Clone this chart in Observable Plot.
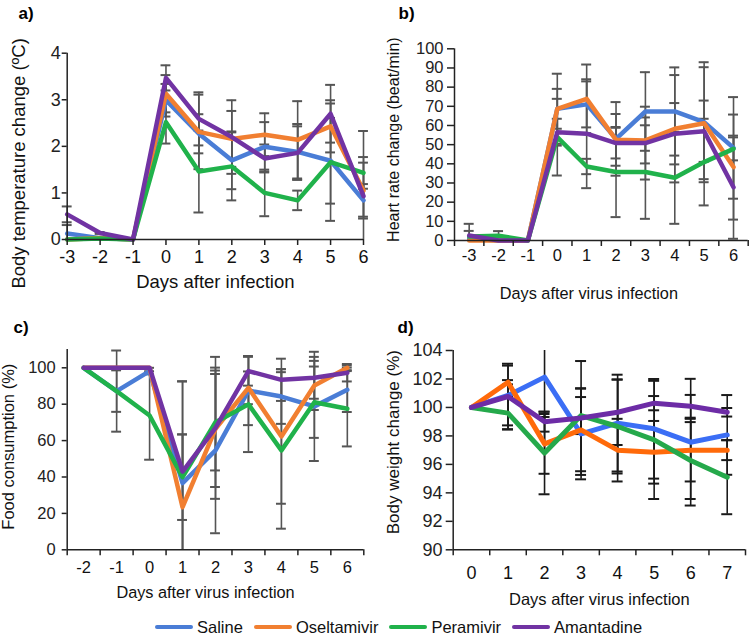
<!DOCTYPE html>
<html><head><meta charset="utf-8">
<script src="https://cdn.jsdelivr.net/npm/d3@7"></script>
<script src="https://cdn.jsdelivr.net/npm/@observablehq/plot@0.6"></script>
<style>
body{margin:0;background:#fff;font-family:"Liberation Sans",Arial,sans-serif;}
#wrap{position:relative;width:750px;height:634px;overflow:hidden;background:#fff}
#legend{position:absolute;left:155px;top:617px;height:20px;display:flex;align-items:center;font-size:16.5px;color:#111;white-space:nowrap}
.item{display:flex;align-items:center;margin-right:11px}
.sw{width:38px;height:4px;border-radius:2px;margin-right:4px}
</style></head><body><div id="wrap"><div id="legend"></div></div>
<script>
const seriesNames = ["Saline","Oseltamivir","Peramivir","Amantadine"];
const colorsABC = ["#4a7dd6","#f17f31","#20b24b","#7133a3"];
const colorsD = ["#3b6ef5","#ff6a0a","#25a94b","#6d2ca6"];

// a) Body temperature change
const daysA = [-3,-2,-1,0,1,2,3,4,5,6];
const tempSaline      = [0.13,0.03,0,2.99,2.27,1.70,1.99,1.88,1.69,0.84];
const tempOseltamivir = [0,0.03,0,3.13,2.31,2.16,2.25,2.14,2.43,1.05];
const tempPeramivir   = [0,0.02,0,2.52,1.46,1.57,1.00,0.84,1.66,1.43];
const tempAmantadine  = [0.54,0.14,0,3.47,2.59,2.20,1.74,1.86,2.70,0.93];
const tempSalineSD      = [0.18,0,0,0.35,0.42,0.62,0.53,0.60,0.92,0.35];
const tempOseltamivirSD = [0,0,0,0.40,0.80,0.60,0.46,0.83,0.56,0.60];
const tempPeramivirSD   = [0,0,0,0.46,0.88,0.73,0.50,0.21,1.26,0.34];
const tempAmantadineSD  = [0.17,0.02,0,0.27,0.57,0.79,0.30,0.57,0.62,1.40];

// b) Heart rate change
const daysB = [-3,-2,-1,0,1,2,3,4,5,6];
const hrSaline      = [1,0,0,68.7,71,53,67.3,67.3,61.7,48.3];
const hrOseltamivir = [0,0,0,68.7,73.9,52.5,52.2,58.3,61.2,38.3];
const hrPeramivir   = [2.1,2.5,0,53.9,38.6,35.7,35.7,32.7,40.9,47.8];
const hrAmantadine  = [2.6,0,0,56.5,55.7,50.8,50.8,55.7,57,27.8];
const hrSalineSD      = [4,0,0,18.3,12,19.2,20.5,23,31.3,26.5];
const hrOseltamivirSD = [0,0,0,10.4,17.9,13.5,12,28,29.2,27.4];
const hrPeramivirSD   = [0,2.4,0,20,4,23.5,24.4,24,22.6,6];
const hrAmantadineSD  = [6.1,0,0,7,28.4,8,19,16,16,26.9];

// c) Food consumption
const daysC = [-2,-1,0,1,2,3,4,5,6];
const foodSaline      = [100,87.2,98.2,36.6,54.6,87.5,84.2,78.8,87.9];
const foodOseltamivir = [100,100,100,23.4,66.5,89,62.3,90.3,100];
const foodPeramivir   = [100,87.2,73.8,39.9,70.1,79.9,54.6,81.1,77.5];
const foodAmantadine  = [100,100,100,43,67,98.2,93.4,94.5,97.3];
const foodSalineSD      = [0,22.3,1.8,56,45.5,19,15,30,12.2];
const foodOseltamivirSD = [0,0,0,40,32,9,37,13.5,1.3];
const foodPeramivirSD   = [0,11.4,24.3,23.5,26.5,26.2,43,19.6,20.7];
const foodAmantadineSD  = [0,0,0,49.5,39,8,11.6,11.5,4.8];

// d) Body weight change
const daysD = [0,1,2,3,4,5,6,7];
const bwSaline      = [100,100.84,102.13,98.15,98.9,98.5,97.56,98.07];
const bwOseltamivir = [100,101.77,97.44,98.42,97.0,96.85,97.0,97.0];
const bwPeramivir   = [100,99.6,96.8,99.43,98.66,97.72,96.27,95.1];
const bwAmantadine  = [100,100.77,99.0,99.26,99.66,100.3,100.08,99.66];
const bwSalineSD      = [0,2.1,2.8,3.2,3.4,3.5,4.45,2.8];
const bwOseltamivirSD = [0,0.15,2.1,2.9,2.2,2.2,2.2,0.7];
const bwPeramivirSD   = [0,1.15,2.9,1.3,3.3,4.15,2.7,2.6];
const bwAmantadineSD  = [0,2.3,0.7,4.0,2.3,0.5,0.8,0.3];

const FONT = '"Liberation Sans", Arial, sans-serif';
const AX = "#222";
const TXT = "#111";

function buildPanel(c) {
  const rows = [];
  c.values.forEach((vals, i) => vals.forEach((v, j) => rows.push({day: c.days[j], v, sd: c.sds[i][j], s: seriesNames[i]})));
  const [y0, y1] = c.yDomain;
  const bars = rows.filter(r => r.sd > 0).map(r => ({
    day: r.day, lo: Math.max(y0, r.v - r.sd), hi: Math.min(y1, r.v + r.sd),
    loCap: r.v - r.sd >= y0, hiCap: r.v + r.sd <= y1
  }));
  const caps = [];
  bars.forEach(b => { if (b.loCap) caps.push({day: b.day, y: b.lo}); if (b.hiCap) caps.push({day: b.day, y: b.hi}); });
  const svg = Plot.plot({
    width: 375, height: 300,
    marginLeft: c.m[0], marginRight: c.m[1], marginTop: c.m[2], marginBottom: c.m[3],
    x: {domain: c.xDomain},
    y: {domain: c.yDomain},
    color: {domain: seriesNames, range: c.colors},
    style: {fontFamily: FONT, color: TXT, background: "transparent", overflow: "visible"},
    marks: [
      Plot.ruleX(bars, {x: "day", y1: "lo", y2: "hi", stroke: c.barColor, strokeWidth: 1.6}),
      Plot.ruleY(caps, {y: "y", x1: d => d.day - c.capHalf, x2: d => d.day + c.capHalf, stroke: c.barColor, strokeWidth: 2}),
      Plot.line(rows, {x: "day", y: "v", z: "s", stroke: "s", strokeWidth: c.lineWidth, strokeLinejoin: "round"}),
      Plot.ruleX([c.xDomain[0]], {stroke: AX, strokeWidth: 1.5}),
      Plot.ruleY([y0], {stroke: AX, strokeWidth: 1.5}),
      Plot.axisY({ticks: c.yTicks, tickSize: c.yTick[0], tickPadding: c.yTick[1], fontSize: c.tickFont, tickFormat: d => String(d), label: null, color: AX, strokeWidth: 1.5}),
      Plot.axisX({ticks: c.xTickMarks, tickSize: 6, tickFormat: () => "", label: null, color: AX, strokeWidth: 1.5}),
      Plot.axisX({ticks: c.days, tickSize: 0, tickPadding: c.xPad, fontSize: c.tickFont, tickFormat: d => String(d), label: null, color: TXT}),
      Plot.text([c.yTitle], {text: d => d, frameAnchor: "left", textAnchor: "middle", lineAnchor: "middle", rotate: -90, dx: c.yTitlePos[0], dy: c.yTitlePos[1], fontSize: c.yTitleFont, fill: TXT}),
      Plot.text([c.xTitle], {text: d => d, frameAnchor: "bottom", textAnchor: "middle", lineAnchor: "bottom", dx: c.xTitlePos[0], dy: c.xTitlePos[1], fontSize: c.xTitleFont, fill: TXT}),
      Plot.text([c.letter], {text: d => d, frameAnchor: "top-left", textAnchor: "start", lineAnchor: "bottom", dx: c.letterPos[0], dy: c.letterPos[1], fontSize: 17, fontWeight: "bold", fill: "#000"})
    ]
  });
  svg.style.position = "absolute";
  svg.style.left = c.left + "px";
  svg.style.top = c.top + "px";
  svg.style.overflow = "visible";
  document.getElementById("wrap").appendChild(svg);
}

const range = (a, b, s) => d3.range(a, b + s / 2, s);

buildPanel({
  left: 0, top: 0, m: [66.7, 12, 52.7, 61],
  days: daysA,
  values: [tempSaline, tempOseltamivir, tempPeramivir, tempAmantadine],
  sds: [tempSalineSD, tempOseltamivirSD, tempPeramivirSD, tempAmantadineSD],
  colors: colorsABC, barColor: "#555", lineWidth: 4.5, capHalf: 0.15,
  xDomain: [-3, 6], yDomain: [0, 4], yTicks: [0, 1, 2, 3, 4], yTick: [5, 1.5],
  xTickMarks: daysA, xPad: 10.5, tickFont: 18,
  yTitle: "Body temperature change (ºC)", yTitleFont: 18.5, yTitlePos: [-48, 17],
  xTitle: "Days after infection", xTitleFont: 18.5, xTitlePos: [0, 48],
  letter: "a)", letterPos: [-48.7, -34.7]
});

buildPanel({
  left: 375, top: 0, m: [79, 2.3, 48.3, 60],
  days: daysB,
  values: [hrSaline, hrOseltamivir, hrPeramivir, hrAmantadine],
  sds: [hrSalineSD, hrOseltamivirSD, hrPeramivirSD, hrAmantadineSD],
  colors: colorsABC, barColor: "#555", lineWidth: 4.5, capHalf: 0.17,
  xDomain: [-3.5, 6.5], yDomain: [0, 100], yTicks: range(0, 100, 10), yTick: [7, 4],
  xTickMarks: range(-3.5, 6.5, 1), xPad: 9, tickFont: 16.5,
  yTitle: "Heart rate change (beat/min)", yTitleFont: 16, yTitlePos: [-61, -5],
  xTitle: "Days after virus infection", xTitleFont: 16.3, xTitlePos: [-12.5, 58.5],
  letter: "b)", letterPos: [-56, -30.3]
});

buildPanel({
  left: 0, top: 300, m: [66.7, 11.7, 49.1, 50.7],
  days: daysC,
  values: [foodSaline, foodOseltamivir, foodPeramivir, foodAmantadine],
  sds: [foodSalineSD, foodOseltamivirSD, foodPeramivirSD, foodAmantadineSD],
  colors: colorsABC, barColor: "#555", lineWidth: 4.5, capHalf: 0.15,
  xDomain: [-2.5, 6.5], yDomain: [0, 110], yTicks: range(0, 100, 20), yTick: [5, 6.5],
  xTickMarks: range(-2.5, 6.5, 1), xPad: 11.8, tickFont: 16.5,
  yTitle: "Food consumption (%)", yTitleFont: 16.5, yTitlePos: [-58.7, -3],
  xTitle: "Days after virus infection", xTitleFont: 16.3, xTitlePos: [-10, 48.4],
  letter: "c)", letterPos: [-53.7, -17]
});

buildPanel({
  left: 375, top: 300, m: [77.7, 5, 50, 50.7],
  days: daysD,
  values: [bwSaline, bwOseltamivir, bwPeramivir, bwAmantadine],
  sds: [bwSalineSD, bwOseltamivirSD, bwPeramivirSD, bwAmantadineSD],
  colors: colorsD, barColor: "#1a1a1a", lineWidth: 5, capHalf: 0.15,
  xDomain: [-0.5, 7.5], yDomain: [90, 104], yTicks: range(90, 104, 2), yTick: [7, 3.7],
  xTickMarks: range(-0.5, 7.5, 1), xPad: 16.2, tickFont: 18,
  yTitle: "Body weight change (%)", yTitleFont: 17, yTitlePos: [-59.7, -8],
  xTitle: "Days after virus infection", xTitleFont: 16.5, xTitlePos: [0, 54.7],
  letter: "d)", letterPos: [-55.7, -18]
});

// legend
const legend = document.getElementById("legend");
seriesNames.forEach((name, i) => {
  const item = document.createElement("div");
  item.className = "item";
  const sw = document.createElement("span");
  sw.className = "sw";
  sw.style.background = colorsABC[i];
  const t = document.createElement("span");
  t.textContent = name;
  item.appendChild(sw); item.appendChild(t);
  legend.appendChild(item);
});
</script></body></html>
